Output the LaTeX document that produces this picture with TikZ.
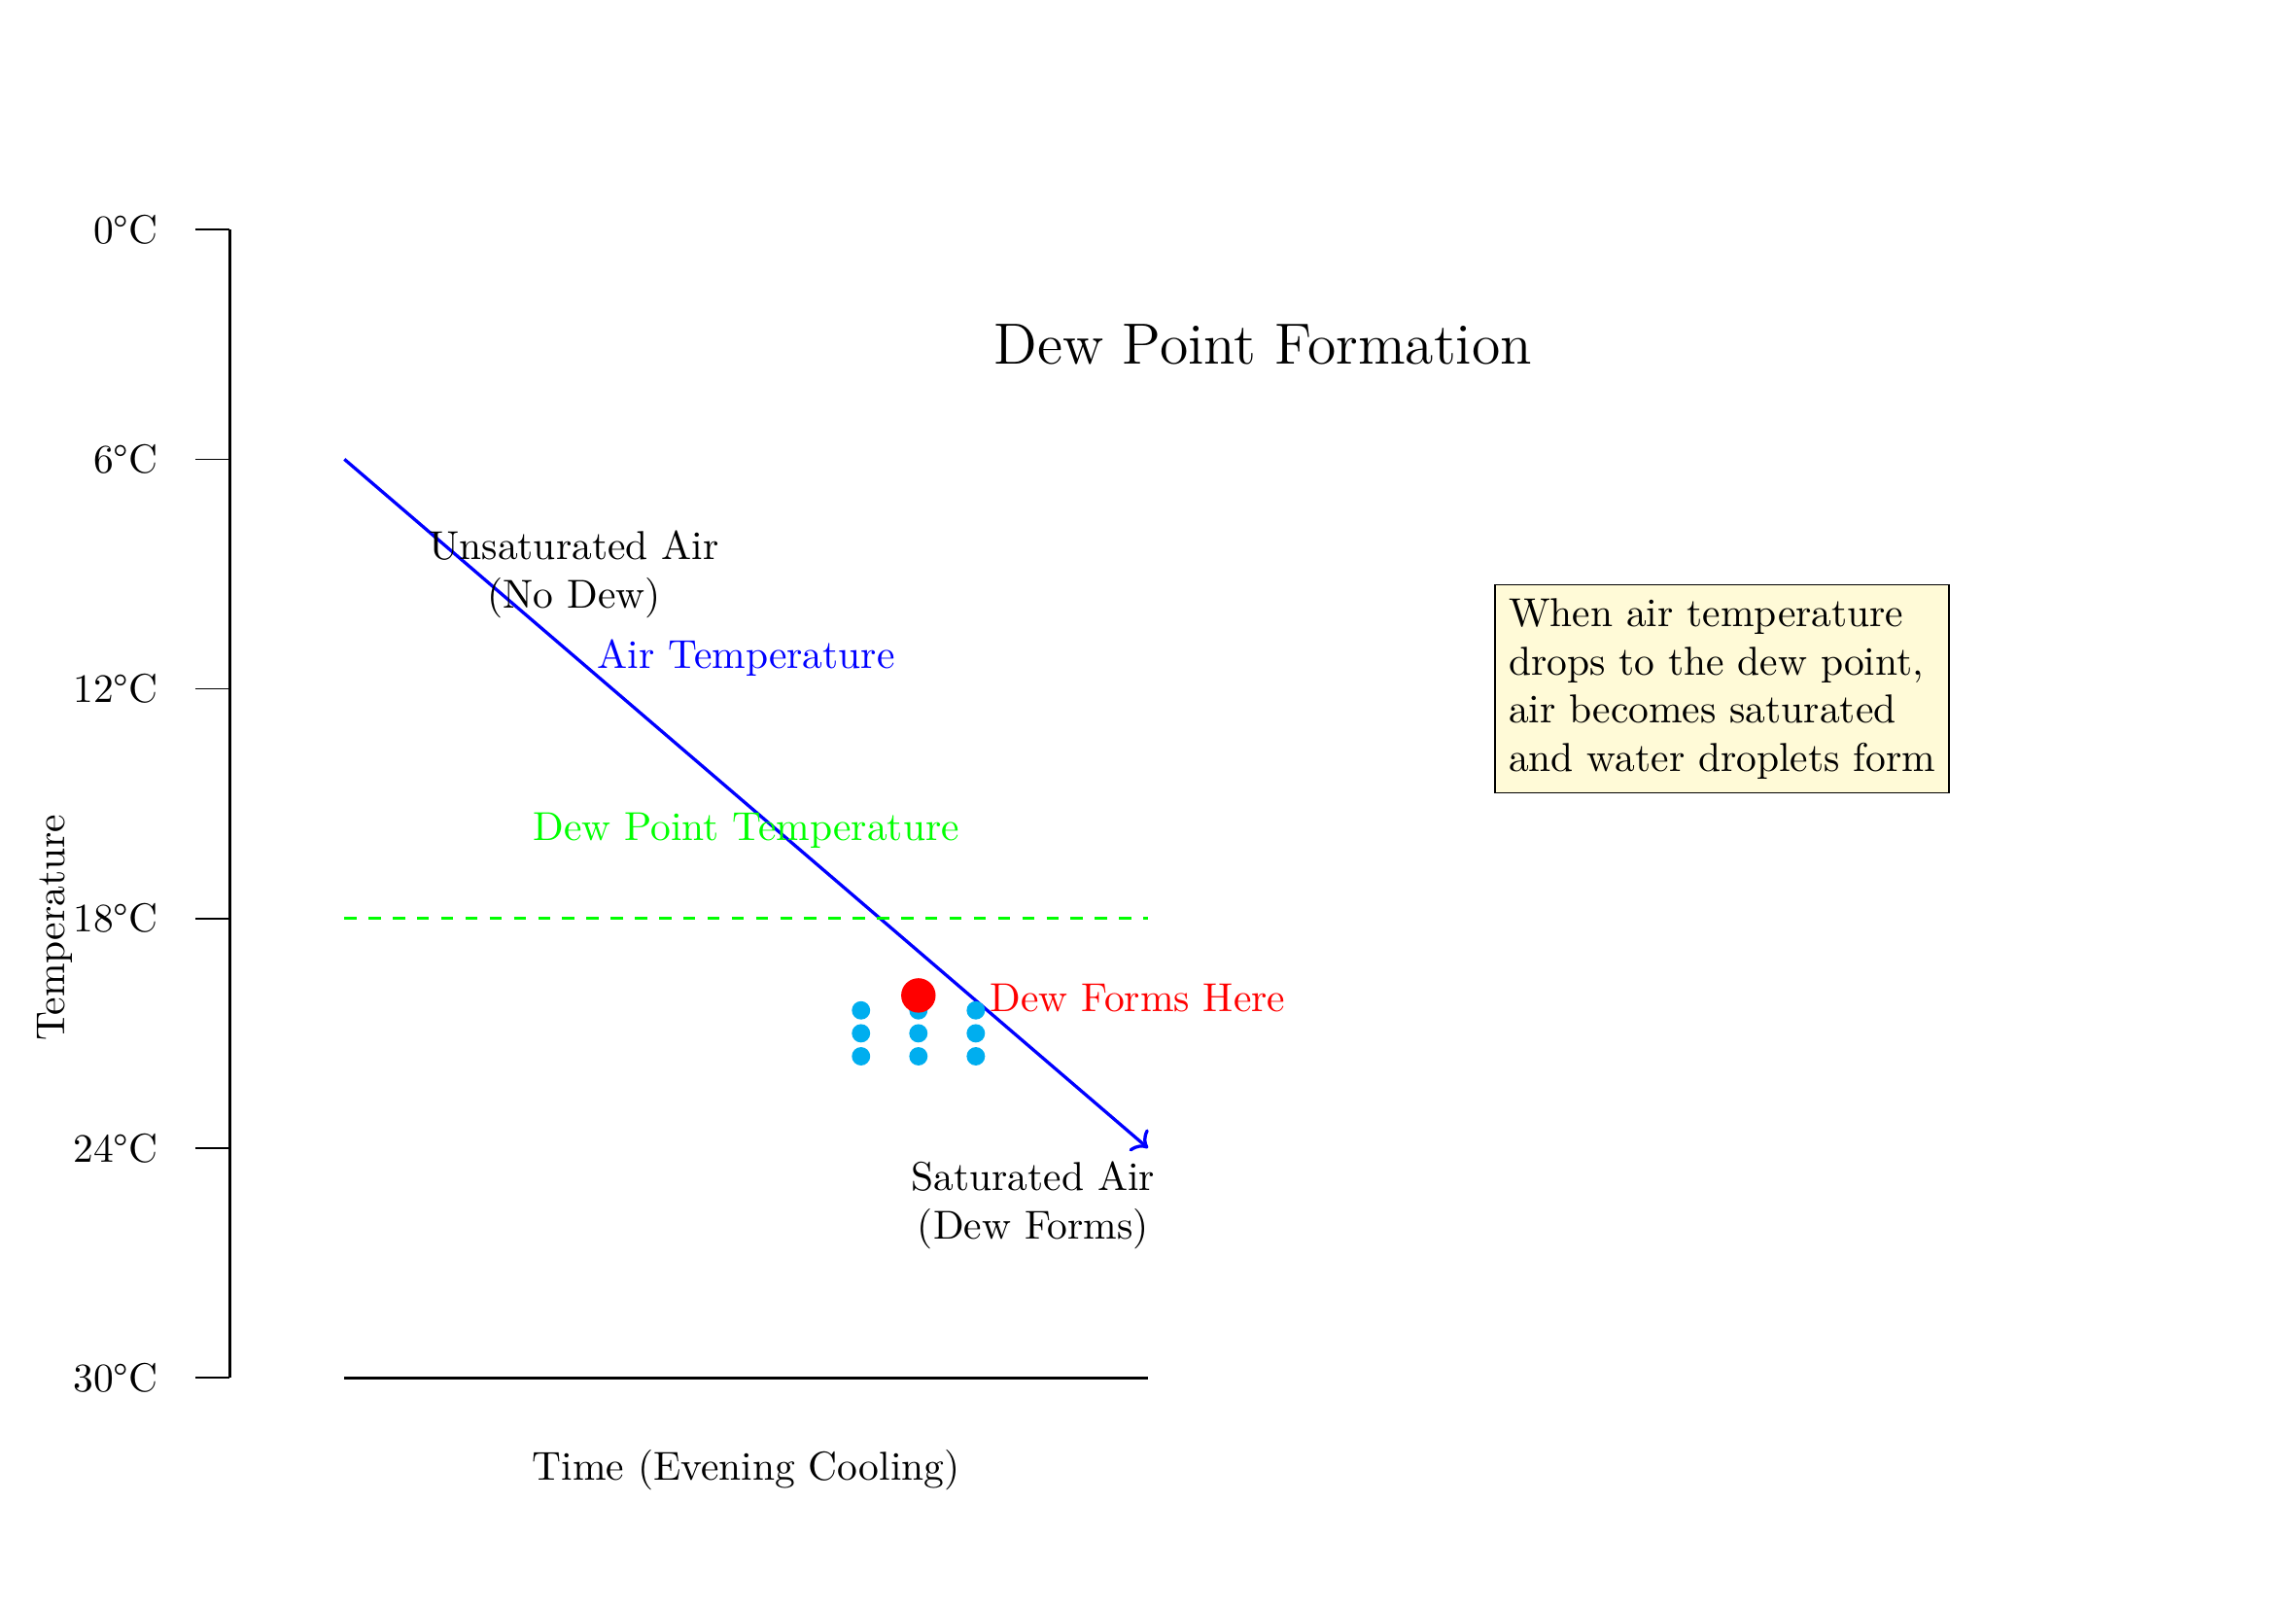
\documentclass[tikz,border=0pt]{standalone}
\usetikzlibrary{arrows.meta}
\definecolor{dropcol}{RGB}{0,174,239}
\definecolor{notefill}{RGB}{255,250,215}
\begin{document}
\begin{tikzpicture}[
  axisline/.style={thick, black},
  tickline/.style={black},
  ticklabel/.style={anchor=east},
  airline/.style={thick, blue, ->},
  dewline/.style={thick, green, dashed},
  drop/.style={circle, fill=dropcol, inner sep=0pt, minimum size=0.16cm},
  reddot/.style={circle, fill=red, inner sep=0pt, minimum size=0.3cm},
  notebox/.style={draw=black, fill=notefill, align=left, inner sep=0.333em}
]
\useasboundingbox (0,0) rectangle (20,14);

% axis
\coordinate (ytop) at (2,12);
\coordinate (ybot) at (2,2);
\draw[axisline] (ytop) -- (ybot);
\foreach \t/\lab [count=\i from 0] in {12/0, 10/6, 8/12, 6/18, 4/24, 2/30}{
  \coordinate (tk\i) at (1.7,\t);
  \coordinate (ta\i) at (2,\t);
  \draw[tickline] (tk\i) -- (ta\i);
  \node[ticklabel] (tl\i) at (1.5,\t) {\lab°C};
}
\node[rotate=90] (ylab) at (0.48,5.92) {Temperature};

% time axis
\coordinate (xl) at (3,2);
\coordinate (xr) at (10,2);
\draw[axisline] (xl) -- (xr);
\node (xlab) at (6.5,1.2) {Time (Evening Cooling)};

% title
\node (title) at (11,11) {\Large Dew Point Formation};

% air temperature
\coordinate (airstart) at (3,10);
\coordinate (airend) at (10,4);
\draw[airline] (airstart) -- (airend);
\node[blue] (airlab) at (6.5,8.27) {Air Temperature};

% dew point
\coordinate (dewl) at (3,6);
\coordinate (dewr) at (10,6);
\draw[dewline] (dewl) -- (dewr);
\node[green] (dewlab) at (6.5,6.765) {Dew Point Temperature};

% labels
\node[align=center] (unsat) at (5,9.0) {Unsaturated Air\\(No Dew)};
\node[align=center] (sat) at (9,3.5) {Saturated Air\\(Dew Forms)};

% droplets
\foreach \x [count=\i] in {7.5,8,8.5}{
  \foreach \y [count=\j] in {5.2,5.0,4.8}{
    \node[drop] (d\i\j) at (\x,\y) {};
  }
}
\node[reddot] (dewpt) at (8,5.33) {};
\node[red, anchor=west] (dewhere) at (8.5,5.31) {Dew Forms Here};

% note
\node[notebox] (note) at (15,8) {When air temperature\\drops to the dew point,\\air becomes saturated\\and water droplets form};
\end{tikzpicture}
\end{document}
